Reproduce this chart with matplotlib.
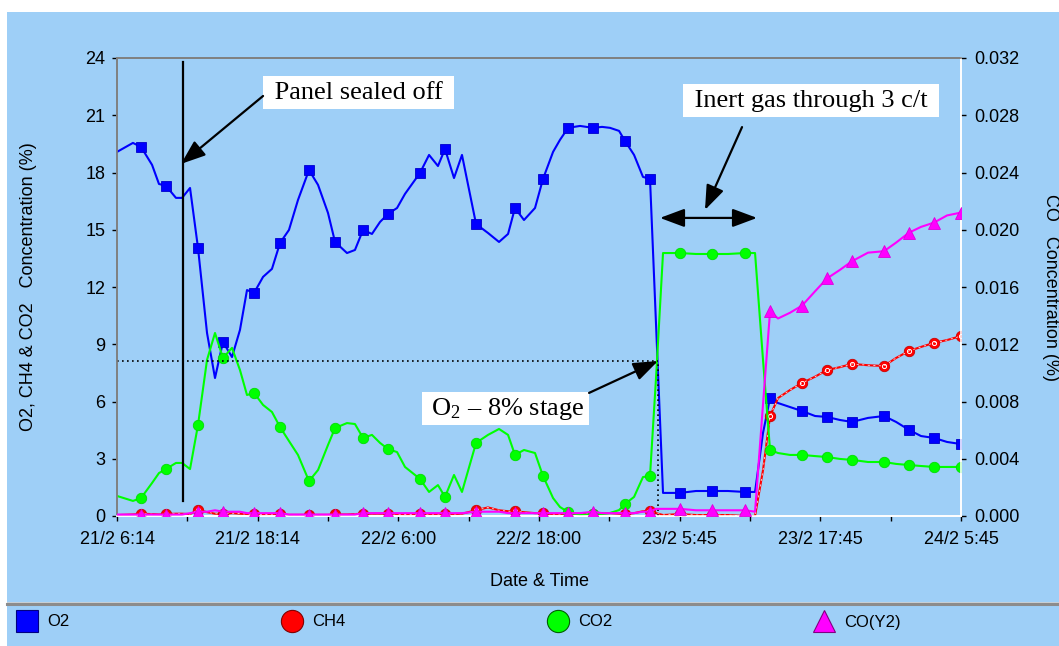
import matplotlib
matplotlib.use('Agg')
import matplotlib.pyplot as plt
import numpy as np
from matplotlib.lines import Line2D
from matplotlib.patches import Rectangle

# ---------------- data (time in hours from 21/2 6:14) ----------------
hours = [0.0, 1.36, 2.05, 2.99, 3.58, 4.18, 5.03, 5.55, 6.23, 6.91,
         7.68, 8.36, 9.04, 9.81, 10.49, 11.09, 11.69, 12.46, 13.22, 13.91,
         14.67, 15.44, 16.38, 17.15, 18.00, 18.60, 19.62, 20.30, 20.99, 21.75,
         22.44, 23.12, 23.89, 24.57, 25.85, 26.62, 27.38, 27.98, 28.75, 29.43,
         30.63, 31.65, 32.59, 33.36, 33.95, 34.72, 35.66, 36.34, 37.20, 37.79,
         38.48, 39.50, 40.61, 41.38, 42.06, 42.83, 43.34, 44.11, 44.87, 45.47,
         45.98, 46.58, 48.03, 49.39, 50.76, 52.12, 53.57, 54.43, 55.11, 55.71,
         56.39, 57.41, 58.44, 59.55, 60.57, 61.68, 62.70, 64.07, 65.43, 66.46,
         67.57, 68.59, 69.70, 70.81, 72.00]

o2 = [19.08, 19.55, 19.34, 18.40, 17.40, 17.30, 16.67, 16.67, 17.19, 14.05,
      9.59, 7.23, 9.12, 8.33, 9.75, 11.84, 11.69, 12.53, 12.95, 14.31,
      14.99, 16.56, 18.13, 17.35, 15.88, 14.36, 13.78, 13.94, 14.99, 14.78,
      15.41, 15.83, 16.14, 16.88, 17.98, 18.92, 18.34, 19.23, 17.71, 18.92,
      15.30, 14.83, 14.36, 14.78, 16.14, 15.51, 16.14, 17.66, 19.08, 19.71,
      20.34, 20.44, 20.34, 20.39, 20.34, 20.18, 19.65, 18.92, 17.77, 17.66,
      10.10, 1.21, 1.21, 1.31, 1.31, 1.31, 1.26, 1.26, 4.35, 6.18,
      5.92, 5.71, 5.50, 5.24, 5.19, 5.03, 4.93, 5.14, 5.24, 4.93,
      4.51, 4.19, 4.09, 3.88, 3.77]

ch4 = [0.05, 0.08, 0.12, 0.10, 0.08, 0.10, 0.12, 0.12, 0.10, 0.32,
       0.20, 0.12, 0.10, 0.15, 0.12, 0.10, 0.08, 0.08, 0.10, 0.08,
       0.06, 0.06, 0.06, 0.06, 0.06, 0.08, 0.08, 0.10, 0.12, 0.12,
       0.12, 0.12, 0.10, 0.08, 0.10, 0.10, 0.10, 0.10, 0.10, 0.12,
       0.30, 0.45, 0.30, 0.25, 0.25, 0.20, 0.15, 0.15, 0.10, 0.10,
       0.10, 0.12, 0.12, 0.15, 0.15, 0.12, 0.10, 0.15, 0.25, 0.28,
       0.15, 0.05, 0.10, 0.05, 0.05, 0.05, 0.00, 0.00, 2.40, 5.24,
       6.18, 6.60, 6.97, 7.30, 7.65, 7.80, 7.97, 7.90, 7.86, 8.28,
       8.65, 8.86, 9.07, 9.22, 9.43]

co2 = [1.05, 0.79, 0.94, 1.73, 2.25, 2.46, 2.78, 2.78, 2.46, 4.77,
       8.18, 9.59, 8.28, 8.81, 7.65, 6.34, 6.45, 5.82, 5.45, 4.66,
       3.93, 3.20, 1.83, 2.41, 3.72, 4.61, 4.87, 4.82, 4.09, 4.25,
       3.83, 3.51, 3.35, 2.57, 1.94, 1.26, 1.62, 1.00, 2.15, 1.26,
       3.83, 4.25, 4.56, 4.25, 3.20, 3.46, 3.30, 2.10, 0.94, 0.47,
       0.21, 0.05, 0.10, 0.10, 0.16, 0.31, 0.63, 1.00, 2.04, 2.10,
       7.20, 13.78, 13.78, 13.73, 13.73, 13.73, 13.78, 13.78, 8.18, 3.46,
       3.30, 3.20, 3.20, 3.14, 3.09, 2.99, 2.94, 2.83, 2.83, 2.73,
       2.67, 2.62, 2.57, 2.57, 2.57]

co = [0.0001, 0.0001, 0.0001, 0.0001, 0.0001, 0.0001, 0.0001, 0.0001, 0.0002, 0.0003,
      0.0003, 0.0004, 0.0003, 0.0003, 0.0003, 0.0002, 0.0002, 0.0002, 0.0002, 0.0002,
      0.0001, 0.0001, 0.0001, 0.0001, 0.0001, 0.0001, 0.0001, 0.0001, 0.0002, 0.0002,
      0.0002, 0.0002, 0.0002, 0.0002, 0.0002, 0.0002, 0.0002, 0.0002, 0.0002, 0.0002,
      0.0003, 0.0003, 0.0003, 0.0002, 0.0002, 0.0002, 0.0002, 0.0002, 0.0002, 0.0002,
      0.0002, 0.0002, 0.0003, 0.0002, 0.0002, 0.0002, 0.0002, 0.0002, 0.0003, 0.0003,
      0.0005, 0.0005, 0.0005, 0.0004, 0.0004, 0.0004, 0.0004, 0.0003, 0.0078, 0.0143,
      0.0138, 0.0142, 0.0147, 0.0157, 0.0166, 0.0172, 0.0178, 0.0184, 0.0185, 0.0191,
      0.0198, 0.0202, 0.0205, 0.0210, 0.0212]

marker_idx = [2, 5, 9, 12, 16, 19, 22, 25, 28, 31, 34, 37, 40, 44, 47, 50, 52, 56,
              59, 62, 64, 66, 69, 72, 74, 76, 78, 80, 82, 84]

tick_hours = [0, 12, 24, 36, 48, 60, 72]
tick_labels = ["21/2 6:14", "21/2 18:14", "22/2 6:00", "22/2 18:00",
               "23/2 5:45", "23/2 17:45", "24/2 5:45"]
left_ticks = [0, 3, 6, 9, 12, 15, 18, 21, 24]
right_ticks = [0.000, 0.004, 0.008, 0.012, 0.016, 0.020, 0.024, 0.028, 0.032]

# annotation anchor points (hours, %)
seal_time = 5.63
stage_point = (46.15, 8.12)

# ---------------- styling ----------------
BG = '#9ecff7'
SANS = ['Liberation Sans', 'DejaVu Sans']
SERIF = 'Liberation Serif'
plt.rcParams['font.family'] = SANS
plt.rcParams['mathtext.fontset'] = 'custom'
plt.rcParams['mathtext.rm'] = SERIF
plt.rcParams['mathtext.it'] = SERIF

W, H = 1059, 646
fig = plt.figure(figsize=(W / 100, H / 100), dpi=100, facecolor=BG)
# white borders (top strip and left edge)
fig.patches.append(Rectangle((0, 1 - 12 / H), 1, 12 / H, transform=fig.transFigure,
                             facecolor='white', edgecolor='none', zorder=0))
fig.patches.append(Rectangle((0, 0), 7 / W, 1, transform=fig.transFigure,
                             facecolor='white', edgecolor='none', zorder=0))

ax = fig.add_axes([117 / W, 1 - 516 / H, (961 - 117) / W, (516 - 58) / H])
ax.set_facecolor(BG)
ax2 = ax.twinx()
ax2.patch.set_visible(False)

lw = 1.5
ax.plot(hours, o2, color='#0000ff', lw=lw, marker='s', ms=7.5, mfc='#0000ff',
        mec='#0000cc', mew=0.6, markevery=marker_idx, zorder=3)
ax.plot(hours, ch4, color='#ff0000', lw=lw, marker='o', ms=7.5, mfc='#ff0000',
        mec='#cc0000', mew=0.6, markevery=marker_idx, zorder=4)
ax.plot(hours, ch4, color='white', lw=0.5, ls=(0, (3, 5)), zorder=4.1)
ax.plot(np.array(hours)[marker_idx], np.array(ch4)[marker_idx], ls='none',
        marker='o', ms=3, mfc='none', mec='white', mew=0.7, zorder=4.2)
ax.plot(hours, co2, color='#00ff00', lw=lw, marker='o', ms=7.5, mfc='#00ff00',
        mec='#00dd00', mew=0.6, markevery=marker_idx, zorder=5)
ax2.plot(hours, co, color='#ff00ff', lw=lw, marker='^', ms=8.5, mfc='#ff00ff',
         mec='#dd00dd', mew=0.6, markevery=marker_idx, zorder=3)

ax.set_xlim(0, 72)
ax.set_ylim(0, 24)
ax2.set_ylim(0, 0.032)
ax.set_xticks(tick_hours)
ax.set_xticklabels(tick_labels)
ax.set_xticks([h + 6 for h in tick_hours[:-1]], minor=True)
ax.set_yticks(left_ticks)
ax.set_yticklabels([str(v) for v in left_ticks])
ax2.set_yticks(right_ticks)
ax2.set_yticklabels([f"{v:.3f}" for v in right_ticks])

ax.tick_params(axis='both', which='both', direction='out', length=3.5, width=1,
               color='black', labelsize=13, pad=5)
ax.tick_params(axis='x', which='both', pad=7)
ax2.tick_params(axis='y', direction='out', length=3.5, width=1, color='black',
                labelsize=13, pad=6)

for a in (ax, ax2):
    a.spines['left'].set_color('#808080')
    a.spines['top'].set_color('#808080')
    a.spines['bottom'].set_color('white')
    a.spines['right'].set_color('white')
    for s in a.spines.values():
        s.set_linewidth(1.2)

fig.text(540 / W, 1 - 582 / H, 'Date & Time', fontsize=13, ha='center', va='center')
fig.text(29 / W, 1 - 287 / H, 'O2, CH4 & CO2   Concentration (%)', fontsize=13,
         rotation=90, ha='center', va='center')
fig.text(1051 / W, 1 - 287 / H, 'CO   Concentration (%)', fontsize=13,
         rotation=-90, ha='center', va='center')

# ---------------- annotations ----------------
ax.plot([seal_time, seal_time], [0.79, 23.79], color='black', lw=1.6, zorder=6)
ax.plot([0, stage_point[0]], [stage_point[1], stage_point[1]], color='black',
        lw=1.2, ls=(0, (1, 2)), zorder=6)
ax.plot([stage_point[0], stage_point[0]], [0, stage_point[1]], color='black',
        lw=1.2, ls=(0, (1, 2)), zorder=6)

box = dict(boxstyle='square,pad=0.2', facecolor='white', edgecolor='none')
ax.text(20.6, 22.19, ' Panel sealed off ', ha='center', va='center', fontsize=19,
        family=SERIF, bbox=box, zorder=7)
ax.text(59.2, 21.77, ' Inert gas through 3 c/t ', ha='center', va='center',
        fontsize=19, family=SERIF, bbox=box, zorder=7)
ax.text(33.14, 5.63, r' O$_2$ – 8% stage ', ha='center', va='center', fontsize=19,
        family=SERIF, bbox=dict(boxstyle='square,pad=0.12', facecolor='white',
                                edgecolor='none'), zorder=7)

arrow = dict(arrowstyle='-|>,head_length=0.75,head_width=0.28', color='black',
             lw=1.6, shrinkA=0, shrinkB=0, mutation_scale=20)
ax.annotate('', xy=(5.46, 18.45), xytext=(12.46, 22.01), arrowprops=arrow, zorder=8)
ax.annotate('', xy=(50.16, 16.04), xytext=(53.32, 20.38), arrowprops=arrow, zorder=8)
ax.annotate('', xy=stage_point, xytext=(40.27, 6.45), arrowprops=arrow, zorder=8)
ax.annotate('', xy=(54.60, 15.62), xytext=(46.32, 15.62),
            arrowprops=dict(arrowstyle='<|-|>,head_length=0.75,head_width=0.28',
                            color='black', lw=1.6, shrinkA=0, shrinkB=0,
                            mutation_scale=20), zorder=8)

# ---------------- legend strip ----------------
fig.add_artist(Line2D([7 / W, 1], [1 - 604 / H, 1 - 604 / H], transform=fig.transFigure,
                      color='#8c8c8c', lw=2.2))
fig.add_artist(Line2D([7 / W, 1], [1 - 602 / H, 1 - 602 / H], transform=fig.transFigure,
                      color='#d0d0d0', lw=0.6))

legend_items = [
    ('O2', dict(marker='s', mfc='#0000ff', mec='#000080'), 27),
    ('CH4', dict(marker='o', mfc='#ff0000', mec='#800000'), 292),
    ('CO2', dict(marker='o', mfc='#00ff00', mec='#006000'), 558),
    ('CO(Y2)', dict(marker='^', mfc='#ff00ff', mec='#800080'), 824),
]
for label, mk, xc in legend_items:
    h = Line2D([], [], ls='none', ms=16, mew=0.8, **mk)
    fig.legend(handles=[h], labels=[label], loc='center left',
               bbox_to_anchor=((xc - 12) / W, 1 - 622 / H), frameon=False,
               fontsize=12, handlelength=1.4, handletextpad=0.55, borderpad=0,
               borderaxespad=0)

fig.savefig('out.png', dpi=100, facecolor=BG)
